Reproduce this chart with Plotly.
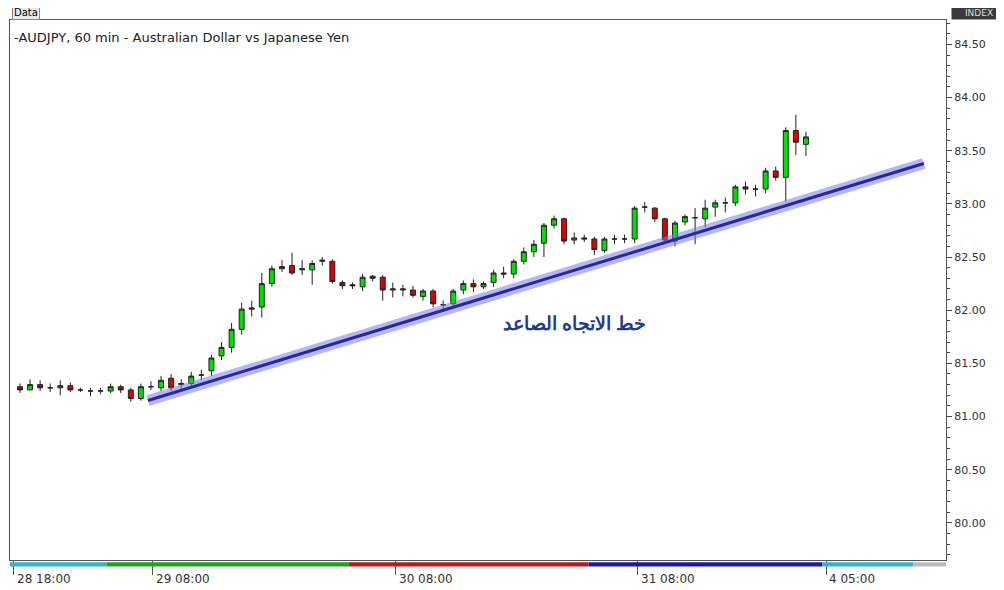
import plotly.graph_objects as go

# hourly candles, AUDJPY 60 min
opens = [81.28, 81.25, 81.30, 81.27, 81.27, 81.29, 81.25, 81.24, 81.24, 81.24,
         81.28, 81.25, 81.17, 81.28, 81.27, 81.36, 81.30, 81.31, 81.39, 81.43,
         81.57, 81.65, 81.82, 82.01, 82.03, 82.25, 82.39, 82.42, 82.38, 82.38,
         82.46, 82.46, 82.26, 82.24, 82.22, 82.32, 82.31, 82.19, 82.19, 82.19,
         82.13, 82.18, 82.05, 82.06, 82.19, 82.25, 82.22, 82.26, 82.35, 82.34,
         82.46, 82.55, 82.63, 82.80, 82.86, 82.66, 82.68, 82.67, 82.56, 82.67,
         82.67, 82.67, 82.97, 82.96, 82.86, 82.65, 82.83, 82.87, 82.86, 82.97,
         83.01, 83.01, 83.16, 83.14, 83.14, 83.31, 83.25, 83.69, 83.56]
closes = [81.25, 81.30, 81.27, 81.27, 81.29, 81.25, 81.25, 81.24, 81.24, 81.28,
          81.25, 81.17, 81.28, 81.28, 81.34, 81.27, 81.31, 81.38, 81.39, 81.55,
          81.65, 81.82, 82.01, 82.02, 82.25, 82.39, 82.41, 82.35, 82.39, 82.44,
          82.47, 82.27, 82.23, 82.23, 82.31, 82.30, 82.19, 82.20, 82.20, 82.14,
          82.18, 82.06, 82.05, 82.18, 82.25, 82.22, 82.25, 82.35, 82.34, 82.46,
          82.55, 82.62, 82.80, 82.86, 82.65, 82.68, 82.67, 82.57, 82.67, 82.67,
          82.67, 82.96, 82.97, 82.86, 82.66, 82.82, 82.88, 82.87, 82.96, 83.01,
          83.01, 83.16, 83.14, 83.14, 83.31, 83.25, 83.69, 83.58, 83.63]
highs = [81.31, 81.35, 81.34, 81.31, 81.34, 81.32, 81.27, 81.27, 81.27, 81.31,
         81.30, 81.27, 81.31, 81.33, 81.38, 81.40, 81.35, 81.42, 81.44, 81.58,
         81.70, 81.88, 82.07, 82.09, 82.35, 82.42, 82.47, 82.54, 82.47, 82.47,
         82.50, 82.48, 82.28, 82.26, 82.34, 82.33, 82.33, 82.26, 82.24, 82.23,
         82.20, 82.20, 82.09, 82.20, 82.28, 82.29, 82.27, 82.38, 82.41, 82.48,
         82.59, 82.66, 82.82, 82.89, 82.87, 82.73, 82.71, 82.69, 82.69, 82.71,
         82.71, 82.98, 83.02, 82.97, 82.87, 82.84, 82.90, 82.96, 83.04, 83.04,
         83.06, 83.18, 83.21, 83.18, 83.34, 83.35, 83.72, 83.84, 83.68]
lows = [81.22, 81.25, 81.24, 81.23, 81.20, 81.23, 81.23, 81.19, 81.21, 81.22,
        81.22, 81.14, 81.15, 81.25, 81.24, 81.24, 81.25, 81.28, 81.34, 81.38,
        81.53, 81.60, 81.77, 81.94, 81.93, 82.22, 82.36, 82.33, 82.33, 82.24,
        82.42, 82.25, 82.20, 82.20, 82.18, 82.27, 82.09, 82.12, 82.13, 82.12,
        82.09, 82.03, 82.01, 82.03, 82.15, 82.17, 82.20, 82.22, 82.30, 82.30,
        82.43, 82.50, 82.50, 82.77, 82.62, 82.62, 82.64, 82.52, 82.54, 82.62,
        82.63, 82.63, 82.92, 82.83, 82.62, 82.60, 82.80, 82.62, 82.78, 82.88,
        82.92, 82.98, 83.09, 83.07, 83.10, 83.22, 83.02, 83.46, 83.45]
idx = list(range(len(opens)))

trend_x = [12.7, 89.7]
trend_y = [81.15, 83.38]

tick_pos = [-0.6, 13.2, 37.3, 61.3, 80.0]
tick_text = ["28 18:00", "29 08:00", "30 08:00", "31 08:00", "4 05:00"]

fig = go.Figure()
fig.add_trace(go.Scatter(x=trend_x, y=trend_y, mode="lines",
                         line=dict(color="rgba(120,120,255,0.55)", width=11),
                         hoverinfo="skip", showlegend=False))
fig.add_trace(go.Scatter(x=trend_x, y=trend_y, mode="lines",
                         line=dict(color="#2a2a8c", width=3),
                         hoverinfo="skip", showlegend=False))
fig.add_trace(go.Candlestick(
    x=idx, open=opens, high=highs, low=lows, close=closes,
    increasing=dict(fillcolor="#00e000", line=dict(color="#222222", width=1)),
    decreasing=dict(fillcolor="#e00000", line=dict(color="#222222", width=1)),
    whiskerwidth=0, showlegend=False))

# x tick labels as left-aligned text next to each tick
for p, t in zip(tick_pos, tick_text):
    fig.add_annotation(x=p, xref="x", yref="paper", y=-0.018, xanchor="left", yanchor="top",
                       xshift=1, text=t, showarrow=False,
                       font=dict(family="DejaVu Sans", size=12, color="#333"))

fig.add_annotation(x=55, y=81.88, text="<b>خط الاتجاه الصاعد</b>", showarrow=False,
                   font=dict(family="Noto Sans", size=19, color="#1f3a93"))
fig.add_annotation(xref="paper", yref="paper", x=0.002, y=0.985, xanchor="left", yanchor="top",
                   text="-AUDJPY, 60 min - Australian Dollar vs Japanese Yen", showarrow=False,
                   font=dict(family="DejaVu Sans", size=13, color="#222"))
fig.add_annotation(xref="paper", yref="paper", x=0.002, y=1.0, xanchor="left", yanchor="bottom",
                   text="Data", showarrow=False, bgcolor="#e8e8e8", bordercolor="#888",
                   borderwidth=1, borderpad=1, font=dict(family="DejaVu Sans", size=10, color="#000"))
fig.add_annotation(xref="paper", yref="paper", x=1.005, y=1.0, xanchor="left", yanchor="bottom",
                   text="INDEX", showarrow=False, bgcolor="#3a3a3a", font=dict(size=9, color="#ddd"),
                   width=52)

# session colour strip under the plot
strip = [(0.0, 0.103, "#2ab7c9"), (0.103, 0.362, "#22a022"), (0.362, 0.618, "#b01e1e"),
         (0.618, 0.868, "#1a1a9c"), (0.868, 0.965, "#2ab7c9"), (0.965, 1.0, "#bbbbbb")]
for a, b, c in strip:
    fig.add_shape(type="rect", xref="paper", yref="paper", x0=a, x1=b, y0=-0.012, y1=-0.004,
                  fillcolor=c, line_width=0)

fig.update_layout(
    width=1004, height=590, margin=dict(l=2, r=66, t=12, b=38),
    paper_bgcolor="white", plot_bgcolor="white",
    font=dict(family="DejaVu Sans", size=11, color="#333"),
    xaxis=dict(range=[-0.99, 91.9], rangeslider=dict(visible=False), tickvals=tick_pos,
               ticktext=["" for _ in tick_text], ticks="outside", ticklen=14, tickcolor="#555",
               showgrid=False, zeroline=False,
               showline=True, linecolor="#555", mirror=True),
    yaxis=dict(range=[79.65, 84.73], side="right", dtick=0.5, tickformat=".2f",
               ticks="outside", ticklen=5, showgrid=False, zeroline=False,
               showline=True, linecolor="#555", mirror=True, tickfont=dict(size=11),
               minor=dict(dtick=0.1, ticks="outside", ticklen=3)),
)

fig.write_html("out.html")
